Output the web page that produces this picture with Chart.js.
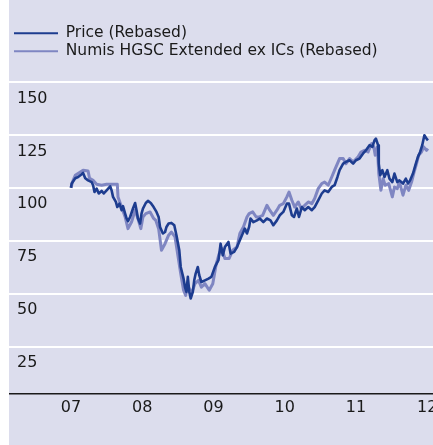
<!DOCTYPE html>
<html>
<head>
<meta charset="utf-8">
<script src="https://cdn.jsdelivr.net/npm/chart.js@4/dist/chart.umd.min.js"></script>
<style>
  html, body { margin: 0; padding: 0; background: #ffffff; overflow: hidden; }
  #wrap { position: absolute; left: 9px; top: 0; width: 424px; height: 445px; background: #dcdded; }
</style>
</head>
<body>
<div id="wrap"><canvas id="c"></canvas></div>
<script>
// ---- Data ----
const seriesNames = ['Price (Rebased)', 'Numis HGSC Extended ex ICs (Rebased)'];

// time in years (7 = start of 2007)
const priceYears = [7.00,7.01,7.06,7.10,7.15,7.17,7.20,7.24,7.29,7.31,7.33,7.36,7.39,7.43,7.46,7.50,7.55,7.57,7.59,7.63,
  7.65,7.68,7.71,7.73,7.76,7.78,7.80,7.83,7.87,7.90,7.92,7.94,7.97,7.99,8.01,8.05,8.08,8.12,8.16,8.20,
  8.23,8.25,8.29,8.32,8.34,8.37,8.41,8.45,8.48,8.52,8.54,8.58,8.60,8.62,8.64,8.66,8.68,8.71,8.73,8.75,
  8.78,8.80,8.83,8.88,8.93,8.97,9.02,9.07,9.10,9.13,9.16,9.21,9.24,9.29,9.33,9.37,9.41,9.44,9.47,9.50,
  9.52,9.56,9.61,9.65,9.70,9.75,9.80,9.84,9.89,9.93,9.98,10.03,10.06,10.10,10.13,10.17,10.20,10.24,10.28,10.33,
  10.38,10.42,10.47,10.52,10.56,10.61,10.66,10.70,10.74,10.77,10.82,10.86,10.91,10.96,11.00,11.05,11.10,11.14,11.19,11.23,
  11.26,11.28,11.31,11.32,11.34,11.37,11.40,11.44,11.47,11.51,11.54,11.58,11.61,11.66,11.70,11.73,11.76,11.80,11.84,11.87,
  11.90,11.93,11.96,11.99,12.01];
const priceValues = [100.0,102.0,104.5,105.1,106.4,107.0,104.5,103.5,102.7,101.2,98.0,99.6,97.3,98.5,97.3,98.8,100.7,98.8,95.7,93.3,
  90.9,92.5,89.4,91.3,87.8,85.5,84.3,86.2,90.2,92.8,89.4,85.5,83.1,87.8,90.2,92.8,93.8,92.8,90.9,88.6,
  86.2,81.5,78.4,79.1,81.5,83.1,83.4,82.3,77.6,70.5,62.6,57.1,53.1,50.8,57.9,50.8,47.7,50.8,56.3,59.5,
  62.6,58.7,55.5,56.3,57.1,57.9,62.6,65.8,73.6,68.1,72.0,74.4,68.9,69.7,72.0,75.2,78.4,80.7,78.4,81.5,
  85.5,83.8,84.6,85.5,83.8,85.5,84.6,82.3,84.6,87.0,88.6,92.5,92.5,87.0,86.2,90.2,86.2,90.9,89.4,90.9,
  89.4,90.9,94.1,97.3,98.8,98.0,100.4,101.2,105.1,108.3,111.4,112.2,113.0,111.4,113.0,113.8,116.2,117.7,120.1,119.3,
  122.4,123.2,120.1,111.4,105.9,108.3,105.1,108.3,104.3,102.7,106.7,102.7,103.5,102.0,104.3,102.0,103.5,106.7,111.4,114.6,
  116.9,120.1,124.8,123.2,122.4];

const indexYears = [7.00,7.02,7.06,7.17,7.24,7.26,7.31,7.36,7.43,7.50,7.59,7.65,7.66,7.71,7.76,7.80,7.85,7.90,7.94,7.98,
  8.01,8.05,8.11,8.16,8.19,8.23,8.27,8.32,8.37,8.41,8.46,8.50,8.54,8.58,8.61,8.64,8.69,8.74,8.79,8.83,
  8.88,8.94,8.99,9.04,9.08,9.12,9.16,9.22,9.27,9.33,9.37,9.42,9.47,9.50,9.55,9.60,9.64,9.69,9.75,9.79,
  9.84,9.89,9.93,9.98,10.03,10.06,10.10,10.14,10.19,10.23,10.28,10.33,10.38,10.42,10.47,10.52,10.56,10.61,10.66,10.70,
  10.75,10.77,10.82,10.86,10.91,10.96,11.03,11.07,11.12,11.17,11.22,11.25,11.27,11.30,11.32,11.35,11.38,11.41,11.46,11.51,
  11.54,11.58,11.61,11.66,11.70,11.74,11.78,11.81,11.85,11.88,11.92,11.95,11.99,12.01];
const indexValues = [100.0,102.7,105.9,108.3,107.9,104.5,103.5,101.7,101.2,101.7,101.7,101.7,95.7,90.9,86.2,80.7,83.8,89.4,85.5,80.7,
  86.2,87.8,88.6,85.5,84.6,80.7,70.5,73.6,77.6,79.1,76.8,68.1,59.5,51.6,49.2,53.9,50.0,54.7,56.3,53.1,
  54.7,51.6,54.7,64.2,68.9,71.3,66.6,66.6,70.5,72.0,78.4,81.5,86.2,87.8,88.6,86.2,86.2,87.0,91.7,89.4,
  87.0,89.4,91.7,92.5,95.7,98.0,94.1,90.9,93.3,90.2,91.7,93.3,92.5,94.9,99.6,102.0,102.7,101.2,105.1,108.3,
  112.2,113.8,113.8,111.4,113.8,112.2,114.6,116.9,117.7,116.9,120.9,119.3,115.4,119.3,106.7,98.8,104.3,101.2,102.0,95.7,
  100.4,99.6,102.7,96.5,101.2,98.8,102.7,106.7,111.4,115.4,116.9,119.3,117.7,118.5];

const xTickValues = [7, 8, 9, 10, 11, 12];
const xTickLabels = ['07', '08', '09', '10', '11', '12'];
const yTickValues = [25, 50, 75, 100, 125, 150];

// ---- Chart ----
const toPoints = (xs, ys) => xs.map((x, i) => ({ x: x, y: ys[i] }));
const FONT = 'DejaVu Sans';
const TEXT = '#1a1a1a';

const legendShift = {
  id: 'legendShift',
  afterLayout(chart) {
    if (chart.legend) { chart.legend.left += 2.5; chart.legend.right += 2.5; }
  }
};

new Chart(document.getElementById('c'), {
  type: 'line',
  data: {
    datasets: [
      {
        label: seriesNames[0],
        data: toPoints(priceYears, priceValues),
        borderColor: '#1d3c8f',
        backgroundColor: '#1d3c8f',
        borderWidth: 2.6,
        pointRadius: 0,
        tension: 0,
        borderJoinStyle: 'round',
        fill: false
      },
      {
        label: seriesNames[1],
        data: toPoints(indexYears, indexValues),
        borderColor: '#7f86c2',
        backgroundColor: '#7f86c2',
        borderWidth: 3,
        pointRadius: 0,
        tension: 0,
        borderJoinStyle: 'round',
        fill: false
      }
    ]
  },
  options: {
    responsive: true,
    maintainAspectRatio: false,
    animation: false,
    layout: { autoPadding: false, padding: { top: 23, left: 0, right: 0, bottom: 0 } },
    plugins: {
      tooltip: { enabled: false },
      legend: {
        display: true,
        position: 'top',
        align: 'start',
        labels: {
          boxWidth: 44,
          boxHeight: 2,
          padding: 2.5,
          color: TEXT,
          font: { family: FONT, size: 15.5 },
          generateLabels: (chart) => chart.data.datasets.map((d, i) => ({
            text: d.label,
            fillStyle: d.borderColor,
            strokeStyle: d.borderColor,
            lineWidth: 0,
            hidden: false,
            datasetIndex: i,
            fontColor: TEXT
          }))
        }
      }
    },
    scales: {
      x: {
        type: 'linear',
        min: 6.13,
        max: 12.081,
        afterBuildTicks: (s) => { s.ticks = xTickValues.map(v => ({ value: v })); },
        afterFit: (s) => { s.height = 51; s.paddingLeft = 0; s.paddingRight = 0; s.paddingTop = 0; s.paddingBottom = 0; },
        grid: { display: false, drawTicks: false },
        border: { display: true, color: '#1a1a1a', width: 1.5 },
        ticks: {
          autoSkip: false,
          maxRotation: 0,
          padding: 4,
          color: TEXT,
          font: { family: FONT, size: 16 },
          callback: (v) => xTickLabels[xTickValues.indexOf(v)]
        }
      },
      y: {
        type: 'linear',
        min: 2.6,
        max: 156.1,
        afterBuildTicks: (s) => { s.ticks = yTickValues.map(v => ({ value: v })); },
        afterFit: (s) => { s.width = 0; s.paddingLeft = 0; s.paddingRight = 0; s.paddingTop = 0; s.paddingBottom = 0; },
        grid: { display: true, color: '#ffffff', lineWidth: 2, drawTicks: false },
        border: { display: false },
        ticks: {
          mirror: true,
          padding: 8,
          labelOffset: 16.5,
          color: TEXT,
          font: { family: FONT, size: 16 }
        }
      }
    }
  },
  plugins: [legendShift]
});
</script>
</body>
</html>
